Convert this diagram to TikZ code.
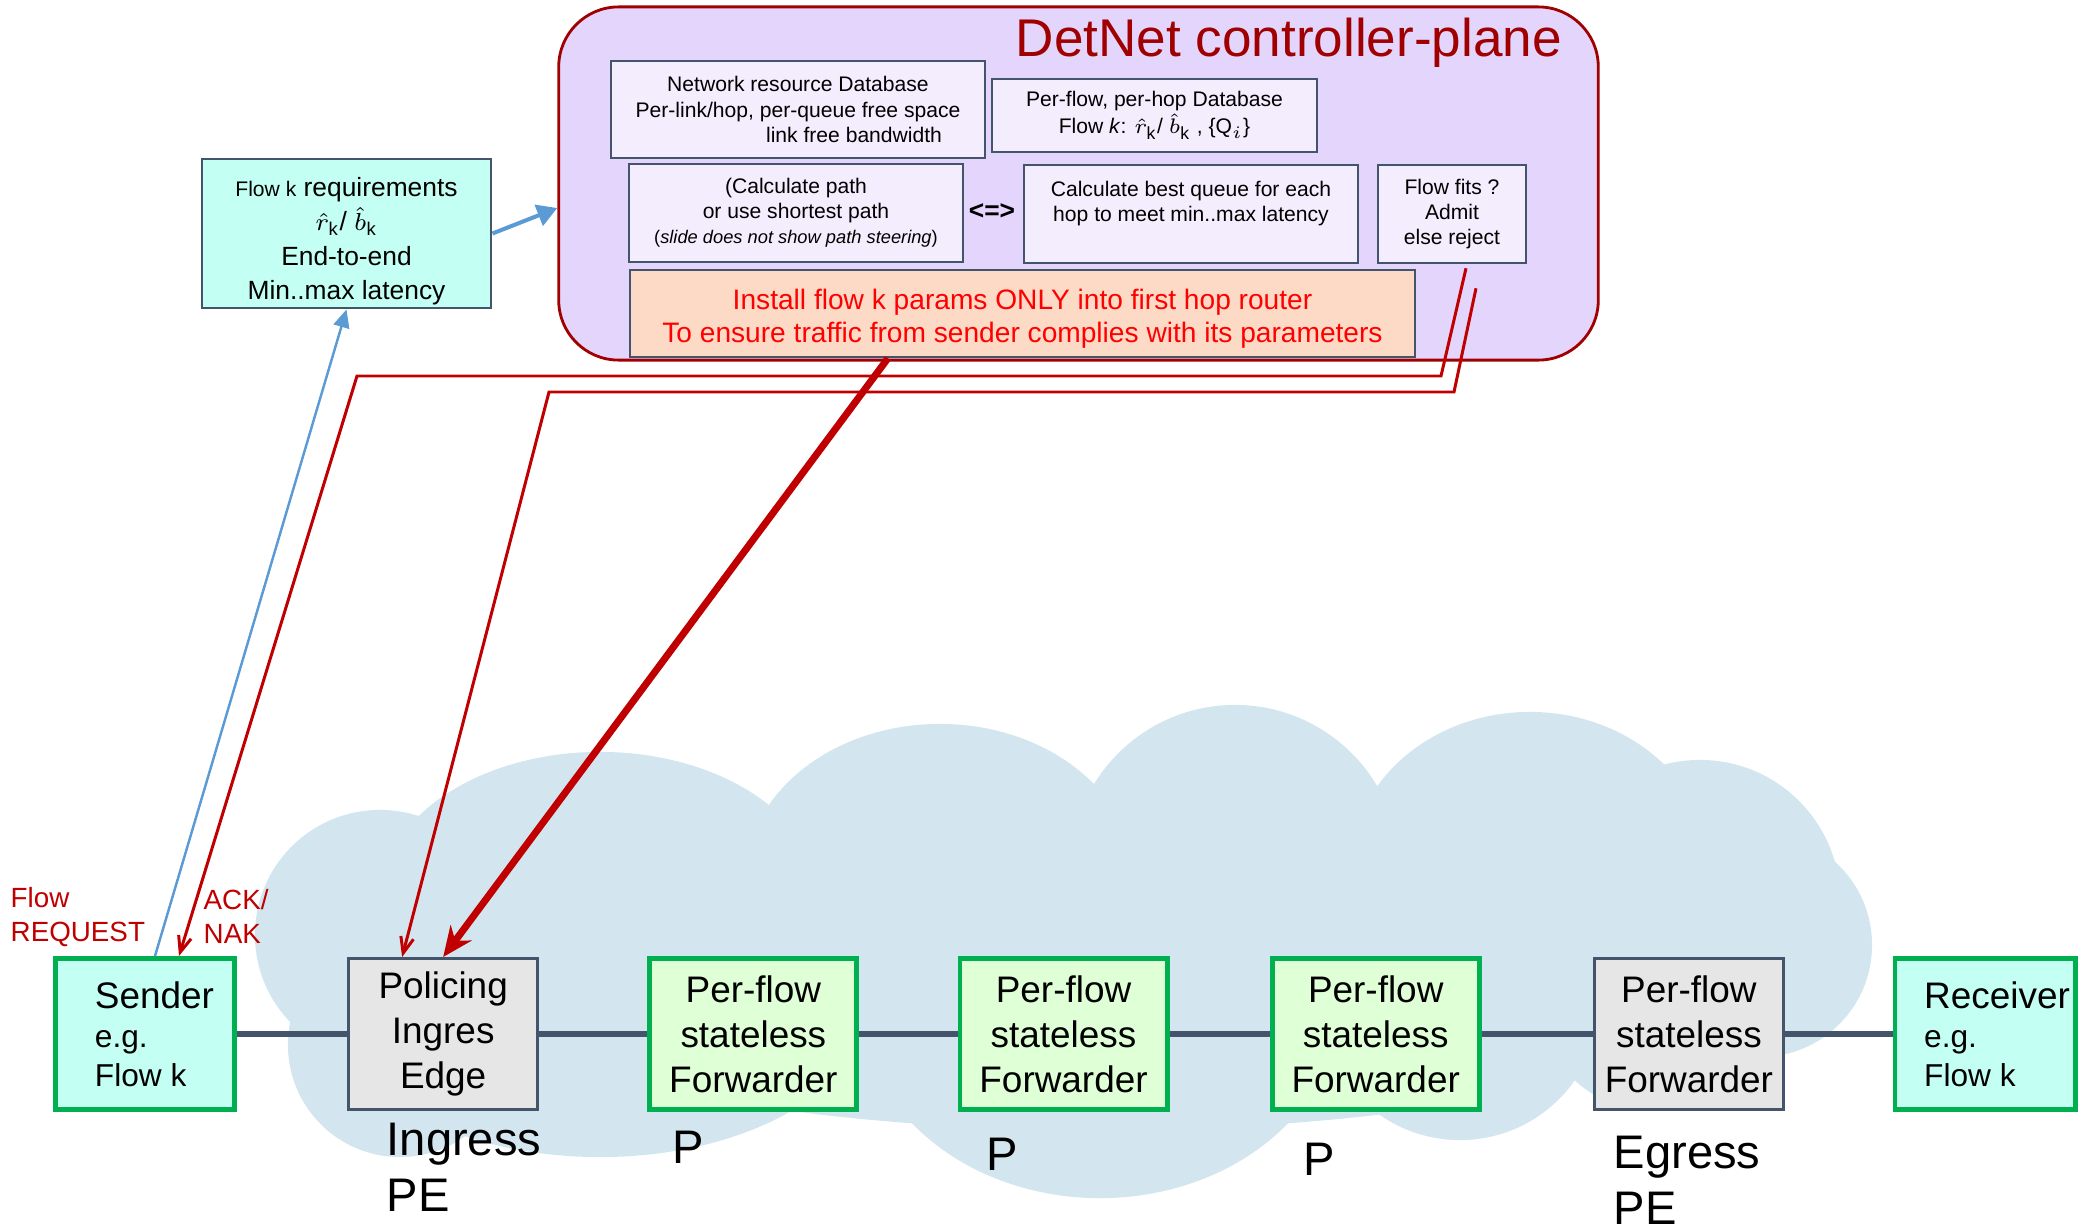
\documentclass[tikz,border=0pt]{standalone}
\usepackage{amsmath}
\usepackage{fontspec}
\setmainfont{Liberation Sans}
\usepackage{tikz}
\usetikzlibrary{arrows.meta, positioning, shapes}

\definecolor{hostcyan}{RGB}{196,255,244}
\definecolor{fwdgreen}{RGB}{223,255,214}
\definecolor{okgreen}{RGB}{0,176,80}
\definecolor{edgegray}{RGB}{230,230,230}
\definecolor{slate}{RGB}{68,84,106}
\definecolor{cloudblue}{RGB}{211,230,239}
\definecolor{ctrlfill}{RGB}{227,213,252}
\definecolor{dbfill}{RGB}{244,237,253}
\definecolor{ctrlred}{RGB}{160,0,0}
\definecolor{peach}{RGB}{253,218,198}
\definecolor{linkred}{RGB}{192,0,0}
\definecolor{reqblue}{RGB}{91,155,213}

\newcommand{\boxfont}{\fontsize{10.5}{12.8}\selectfont}
\newcommand{\hostfont}{\fontsize{9}{11.1}\selectfont}
\newcommand{\dbfont}{\fontsize{6}{7.1}\selectfont}
\newcommand{\lblfont}{\fontsize{13.4}{15.9}\selectfont}
\newcommand{\redfont}{\fontsize{7.9}{9.7}\selectfont}

\tikzstyle{hostbox} = [rectangle, draw=okgreen, line width=1.4pt, fill=hostcyan, minimum width=1.79cm, minimum height=1.51cm, inner sep=0pt, align=left, font=\hostfont]
\tikzstyle{fwdbox} = [rectangle, draw=okgreen, line width=1.4pt, fill=fwdgreen, minimum width=2.07cm, minimum height=1.51cm, inner sep=0pt, align=center, font=\boxfont]
\tikzstyle{edgebox} = [rectangle, draw=slate, line width=0.85pt, fill=edgegray, minimum width=1.89cm, minimum height=1.51cm, inner sep=0pt, align=center, font=\boxfont]
\tikzstyle{dbbox} = [rectangle, draw=slate, line width=0.7pt, fill=dbfill, inner sep=0pt, align=center, font=\dbfont]
\tikzstyle{lbl} = [anchor=north west, inner sep=0pt, align=left, font=\lblfont]
\tikzstyle{redlbl} = [anchor=north west, inner sep=0pt, align=left, font=\redfont, text=linkred]
\tikzstyle{link} = [draw=slate, line width=1.7pt]
\tikzstyle{ackline} = [draw=linkred, line width=0.85pt, -{Straight Barb[length=0.16cm,width=0.13cm]}]
\tikzstyle{installline} = [draw=linkred, line width=2pt, -{Stealth[length=0.3cm,width=0.26cm]}]
\tikzstyle{reqline} = [draw=reqblue, line width=0.7pt, -{Triangle[length=0.18cm,width=0.16cm]}]
\tikzstyle{reqarrow} = [draw=reqblue, line width=1.15pt, -{Triangle[length=0.2cm,width=0.22cm]}]

\begin{document}
\begin{tikzpicture}[x=0.01cm, y=-0.01cm]
\path[use as bounding box] (0,0) rectangle (2093,1230);

% network cloud
\begin{scope}[cloudblue]
\fill (1100,970) ellipse [x radius=6.5cm, y radius=1.6cm];
\fill (600,900) ellipse [x radius=2.2cm, y radius=1.48cm];
\fill (940,880) ellipse [x radius=1.95cm, y radius=1.56cm];
\fill (1235,870) circle [radius=1.65cm];
\fill (1530,870) ellipse [x radius=1.8cm, y radius=1.58cm];
\fill (1700,900) circle [radius=1.4cm];
\fill (1760,945) circle [radius=1.12cm];
\fill (1650,1000) circle [radius=1.1cm];
\fill (1460,1000) circle [radius=1.4cm];
\fill (1100,1000) ellipse [x radius=2.4cm, y radius=1.98cm];
\fill (600,1000) ellipse [x radius=2.7cm, y radius=1.57cm];
\fill (400,1045) circle [radius=1.12cm];
\fill (380,935) circle [radius=1.25cm];
\end{scope}

% controller plane
\node (ctrl) [rectangle, rounded corners=0.6cm, draw=ctrlred, line width=0.8pt, fill=ctrlfill, minimum width=10.39cm, minimum height=3.53cm] at (1078.5,183.5) {};
\node (title) [anchor=base west, inner sep=0pt, font=\fontsize{15.1}{18}\selectfont, text=ctrlred] at (1015,57) {DetNet controller-plane};
\node (netdb) [dbbox, minimum width=3.74cm, minimum height=0.97cm, font=\fontsize{6}{7.2}\selectfont] at (798,109.5) {Network resource Database\\Per-link/hop, per-queue free space\\\hspace*{1.12cm}link free bandwidth};
\node (flowdb) [dbbox, minimum width=3.25cm, minimum height=0.73cm] at (1154.5,115.5) {Per-flow, per-hop Database\\[0.6pt]Flow \textit{k}: \(\hat{r}_{\text{k}}\)/ \(\hat{b}_{\text{k}}\) , \{Q\(_{i}\)\}};
\node (path) [dbbox, minimum width=3.34cm, minimum height=0.98cm] at (796,213) {(Calculate path\\or use shortest path\\{\fontsize{5.2}{7.1}\selectfont(\textit{slide does not show path steering})}};
\node (eqv) [inner sep=0pt, font=\fontsize{7.5}{9}\selectfont\bfseries] at (992,212) {<=>};
\node (queue) [dbbox, minimum width=3.34cm, minimum height=0.98cm] at (1191,214) {Calculate best queue for each\\hop to meet min..max latency\\\mbox{}};
\node (fits) [dbbox, minimum width=1.48cm, minimum height=0.98cm] at (1452,214) {Flow fits ?\\Admit\\else reject};
\node (install) [dbbox, fill=peach, minimum width=7.85cm, minimum height=0.87cm, text=red, font=\fontsize{8}{9.4}\selectfont] at (1022.5,313.5) {\mbox{}\\[-0.025cm]Install flow k params ONLY into first hop router\\To ensure traffic from sender complies with its parameters};

% flow requirements
\node (req) [rectangle, draw=slate, line width=0.8pt, fill=hostcyan, minimum width=2.89cm, minimum height=1.49cm, inner sep=0pt, align=center, font=\fontsize{7.5}{9.8}\selectfont] at (346.5,233.5) {\mbox{}\\{\fontsize{6}{9.8}\selectfont Flow k} requirements\\\(\hat{r}_{\text{k}}\)/ \(\hat{b}_{\text{k}}\)\\End-to-end\\Min..max latency};

% data plane
\node (sender) [hostbox] at (145,1034) {\hspace*{0.19cm}{\fontsize{10.5}{11.1}\selectfont Sender}\\\hspace*{0.19cm}e.g.\\\hspace*{0.19cm}Flow k};
\node (police) [edgebox, right of=sender, node distance=2.98cm] {Policing\\Ingres\\Edge};
\node (pf1) [fwdbox, right of=police, node distance=3.1cm] {Per-flow\\stateless\\Forwarder};
\node (pf2) [fwdbox, right of=pf1, node distance=3.1cm] {Per-flow\\stateless\\Forwarder};
\node (pf3) [fwdbox, right of=pf2, node distance=3.12cm] {Per-flow\\stateless\\Forwarder};
\node (egress) [edgebox, right of=pf3, node distance=3.13cm] {Per-flow\\stateless\\Forwarder};
\node (receiver) [hostbox, minimum width=1.8cm, right of=egress, node distance=2.96cm] {\hspace*{0.24cm}{\fontsize{10.5}{11.1}\selectfont Receiver}\\\hspace*{0.24cm}e.g.\\\hspace*{0.24cm}Flow k};

\node (ingresslbl) [lbl] at (386,1122) {Ingress\\PE};
\node (plbla) [lbl] at (672,1130) {P};
\node (plblb) [lbl] at (986,1137) {P};
\node (plblc) [lbl] at (1303,1142) {P};
\node (egresslbl) [lbl] at (1613,1135) {Egress\\PE};
\node (reqlbl) [redlbl] at (10,887) {Flow\\REQUEST};
\node (acklbl) [redlbl] at (203,889) {ACK/\\NAK};

% Draw edges
\path [link] (sender) -- (police);
\path [link] (police) -- (pf1);
\path [link] (pf1) -- (pf2);
\path [link] (pf2) -- (pf3);
\path [link] (pf3) -- (egress);
\path [link] (egress) -- (receiver);

\path [reqarrow] (req.east) -- ([yshift=-0.245cm]ctrl.west);
\path [reqline] ([xshift=0.1cm]sender.north) -- (req.south);
\path [ackline] ([xshift=0.14cm,yshift=-0.04cm]fits.south) -- (1441,376) -- (357,376) -- ([xshift=0.34cm]sender.north);
\path [ackline] ([xshift=0.24cm,yshift=-0.24cm]fits.south) -- (1454,392) -- (549,392) -- ([xshift=-0.41cm]police.north);
\path [installline] ([xshift=-1.345cm]install.south) -- (police.north);

\end{tikzpicture}
\end{document}
